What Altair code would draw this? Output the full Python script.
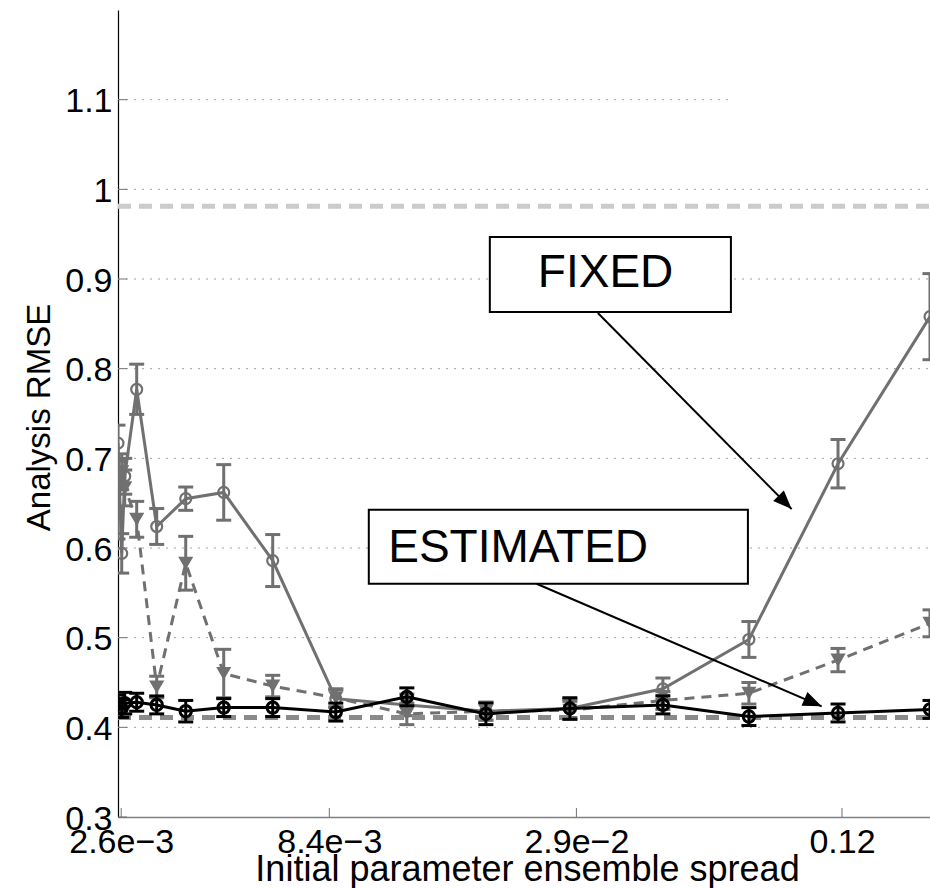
import altair as alt
import pandas as pd

# ---------------- data ----------------
spread = [0.002556, 0.002607, 0.002649, 0.002823, 0.00314, 0.003664, 0.004484,
          0.005818, 0.008136, 0.01187, 0.01807, 0.02824, 0.04631, 0.07316, 0.1175, 0.1916]

fixed_rmse = [0.717, 0.594, 0.680, 0.777, 0.624, 0.655, 0.662, 0.586, 0.432, 0.425,
              0.418, 0.421, 0.443, 0.498, 0.694, 0.858]
fixed_err = [0.020, 0.022, 0.020, 0.028, 0.020, 0.013, 0.031, 0.029, 0.010, 0.012,
             0.010, 0.010, 0.012, 0.020, 0.027, 0.048]

tri_rmse = [0.640, 0.685, 0.667, 0.632, 0.445, 0.583, 0.460, 0.446, 0.433, 0.415,
            0.418, 0.419, 0.430, 0.438, 0.475, 0.516]
tri_err = [0.030, 0.020, 0.020, 0.020, 0.012, 0.030, 0.027, 0.012, 0.010, 0.012,
           0.010, 0.010, 0.010, 0.012, 0.013, 0.015]

est_rmse = [0.426, 0.421, 0.427, 0.428, 0.425, 0.418, 0.422, 0.422, 0.417, 0.434,
            0.415, 0.421, 0.425, 0.412, 0.416, 0.420]
est_err = [0.010, 0.010, 0.012, 0.010, 0.010, 0.012, 0.010, 0.010, 0.010, 0.010,
           0.012, 0.012, 0.010, 0.010, 0.010, 0.010]

ref_levels = [0.981, 0.411]
ref_colors = ["#cbcbcb", "#8a8a8a"]

y_ticks = [0.3, 0.4, 0.5, 0.6, 0.7, 0.8, 0.9, 1.0, 1.1]
x_ticks = [0.0026, 0.007861, 0.02924, 0.12]
x_tick_labels = ["2.6e\u22123", "8.4e\u22123", "2.9e\u22122", "0.12"]

grid_levels = [0.4, 0.5, 0.6, 0.7, 0.8, 0.9, 1.0, 1.1]
grid_ends = [0.1916, 0.1916, 0.1916, 0.1916, 0.1916, 0.1916, 0.1916, 0.06684]

box_labels = ["FIXED", "ESTIMATED"]
box_x1 = [0.018454, 0.009697]
box_x2 = [0.066485, 0.072773]
box_y1 = [0.9468, 0.6426]
box_y2 = [0.8632, 0.5601]
label_x = [0.023823, 0.010753]
label_y = [0.8911, 0.5846]

arrow_x1 = [0.032774, 0.023659]
arrow_y1 = [0.8621, 0.5601]
arrow_x2 = [0.091833, 0.10771]
arrow_y2 = [0.6434, 0.4234]
arrow_angle = [135.4, 113.3]

X_DOMAIN = [0.002556, 0.1916]
Y_DOMAIN = [0.3, 1.2]

# ---------------- layout / style ----------------
W, H = 812, 807
FONT = "Liberation Sans"
GRAY = "#707070"

xscale = alt.Scale(type="log", domain=X_DOMAIN, nice=False)
yscale = alt.Scale(domain=Y_DOMAIN, nice=False, zero=False)


def build_expr(vals, labels):
    expr = f"'{labels[-1]}'"
    for i in range(len(vals) - 2, -1, -1):
        mid = (vals[i] * vals[i + 1]) ** 0.5
        expr = f"datum.value < {mid} ? '{labels[i]}' : " + expr
    return expr


x_axis = alt.Axis(
    values=x_ticks, labelExpr=build_expr(x_ticks, x_tick_labels),
    title="Initial parameter ensemble spread", grid=False, ticks=False, tickSize=0,
    labelFont=FONT, labelFontSize=34, labelColor="black", labelPadding=35,
    labelBaseline="alphabetic", labelFlush=False, labelOverlap=False,
    domainColor="#808080", domainWidth=1.5,
    titleFont=FONT, titleFontSize=36, titleFontWeight="normal", titleColor="black",
    titleX=409, titleY=63, titleBaseline="alphabetic", titleAlign="center",
)
y_axis = alt.Axis(
    values=y_ticks, format="~g", title="Analysis RMSE", grid=False, ticks=False,
    tickSize=0, labelFont=FONT, labelFontSize=34, labelColor="black", labelPadding=6,
    labelBaseline="alphabetic", labelOffset=12, labelFlush=False, labelOverlap=False,
    domainColor="black", domainWidth=1.2,
    titleFont=FONT, titleFontSize=33, titleFontWeight="normal", titleColor="black",
    titleX=-69, titleY=407, titleAngle=270, titleBaseline="alphabetic", titleAlign="center",
)


def xenc(f):
    return alt.X(f"{f}:Q", scale=xscale, axis=x_axis)


def yenc(f):
    return alt.Y(f"{f}:Q", scale=yscale, axis=y_axis)


# gridlines
grid_df = pd.DataFrame({"y": grid_levels, "x0": [X_DOMAIN[0]] * len(grid_levels), "x1": grid_ends})
grid = alt.Chart(grid_df).mark_rule(color="#a0a0a0", strokeWidth=1, strokeDash=[2, 6]).encode(
    x=xenc("x0"), x2="x1:Q", y=yenc("y"))

# custom inward ticks
ytick_df = pd.DataFrame({"y": y_ticks})
yticks = alt.Chart(ytick_df).mark_rule(color="#707070", strokeWidth=1).encode(
    y=yenc("y"), x=alt.value(0), x2=alt.value(9))
xtick_df = pd.DataFrame({"x": x_ticks})
xticks = alt.Chart(xtick_df).mark_rule(color="#707070", strokeWidth=1).encode(
    x=xenc("x"), y=alt.value(H), y2=alt.value(H - 9))

# reference dashed lines
ref_df = pd.DataFrame({"y": ref_levels, "c": ref_colors})
refs = alt.Chart(ref_df).mark_rule(strokeWidth=5, strokeDash=[13, 8]).encode(
    y=yenc("y"), x=alt.value(0), x2=alt.value(W), color=alt.Color("c:N", scale=None))
ref_light = refs.transform_filter(alt.datum.y > 0.9)
ref_dark = refs.transform_filter(alt.datum.y < 0.9)


def series(vals, errs, color, shape, filled, size, marker_sw, dash=None, lw=3):
    df = pd.DataFrame({"x": spread, "y": vals,
                       "lo": [v - e for v, e in zip(vals, errs)],
                       "hi": [v + e for v, e in zip(vals, errs)]})
    base = alt.Chart(df)
    bars = base.mark_rule(color=color, strokeWidth=3, clip=True).encode(
        x=xenc("x"), y=yenc("lo"), y2="hi:Q")
    cap_lo = base.mark_tick(color=color, orient="horizontal", size=15, thickness=3,
                            opacity=1, clip=True).encode(x=xenc("x"), y=yenc("lo"))
    cap_hi = base.mark_tick(color=color, orient="horizontal", size=15, thickness=3,
                            opacity=1, clip=True).encode(x=xenc("x"), y=yenc("hi"))
    lkw = dict(color=color, strokeWidth=lw, clip=True)
    if dash:
        lkw["strokeDash"] = dash
    line = base.mark_line(**lkw).encode(x=xenc("x"), y=yenc("y"))
    if filled:
        pts = base.mark_point(shape=shape, filled=True, color=color, size=size,
                              opacity=1, clip=True).encode(x=xenc("x"), y=yenc("y"))
    else:
        pts = base.mark_point(shape=shape, filled=False, color=color, size=size,
                              strokeWidth=marker_sw, opacity=1, clip=True).encode(
            x=xenc("x"), y=yenc("y"))
    return [bars, cap_lo, cap_hi, line, pts]


fixed_layers = series(fixed_rmse, fixed_err, GRAY, "circle", False, 120, 2.2)
tri_layers = series(tri_rmse, tri_err, GRAY, "triangle-down", True, 230, 0, dash=[10, 7])
est_layers = series(est_rmse, est_err, "black", "circle", False, 130, 3)

# annotation boxes, labels and arrows
box_df = pd.DataFrame({"label": box_labels, "x1": box_x1, "x2": box_x2, "y1": box_y1,
                       "y2": box_y2, "tx": label_x, "ty": label_y})
boxes = alt.Chart(box_df).mark_rect(fill="white", stroke="black", strokeWidth=2).encode(
    x=xenc("x1"), x2="x2:Q", y=yenc("y1"), y2="y2:Q")
labels = alt.Chart(box_df).mark_text(align="left", baseline="alphabetic", font=FONT,
                                     fontSize=46, color="black").encode(
    x=xenc("tx"), y=yenc("ty"), text="label:N")

arrow_df = pd.DataFrame({"x1": arrow_x1, "y1": arrow_y1, "x2": arrow_x2, "y2": arrow_y2,
                         "a": arrow_angle})
arrow_lines = alt.Chart(arrow_df).mark_rule(color="black", strokeWidth=2).encode(
    x=xenc("x1"), x2="x2:Q", y=yenc("y1"), y2="y2:Q")
arrow_heads = alt.Chart(arrow_df).mark_point(
    shape="M0,0L-0.4,1L0.4,1Z", filled=True, color="black", size=1400, opacity=1).encode(
    x=xenc("x2"), y=yenc("y2"), angle=alt.Angle("a:Q", scale=None))

layers = ([grid, yticks, xticks, ref_light] + fixed_layers + tri_layers + [ref_dark]
          + est_layers + [arrow_lines, arrow_heads, boxes, labels])

chart = alt.layer(*layers).properties(
    width=W, height=H,
    padding={"left": 118, "top": 10, "right": 0, "bottom": 71},
    autosize=alt.AutoSizeParams(type="none"),
    background="white",
).configure_view(stroke=None)

chart.save("out.html", embed_options={"renderer": "svg", "actions": False})
